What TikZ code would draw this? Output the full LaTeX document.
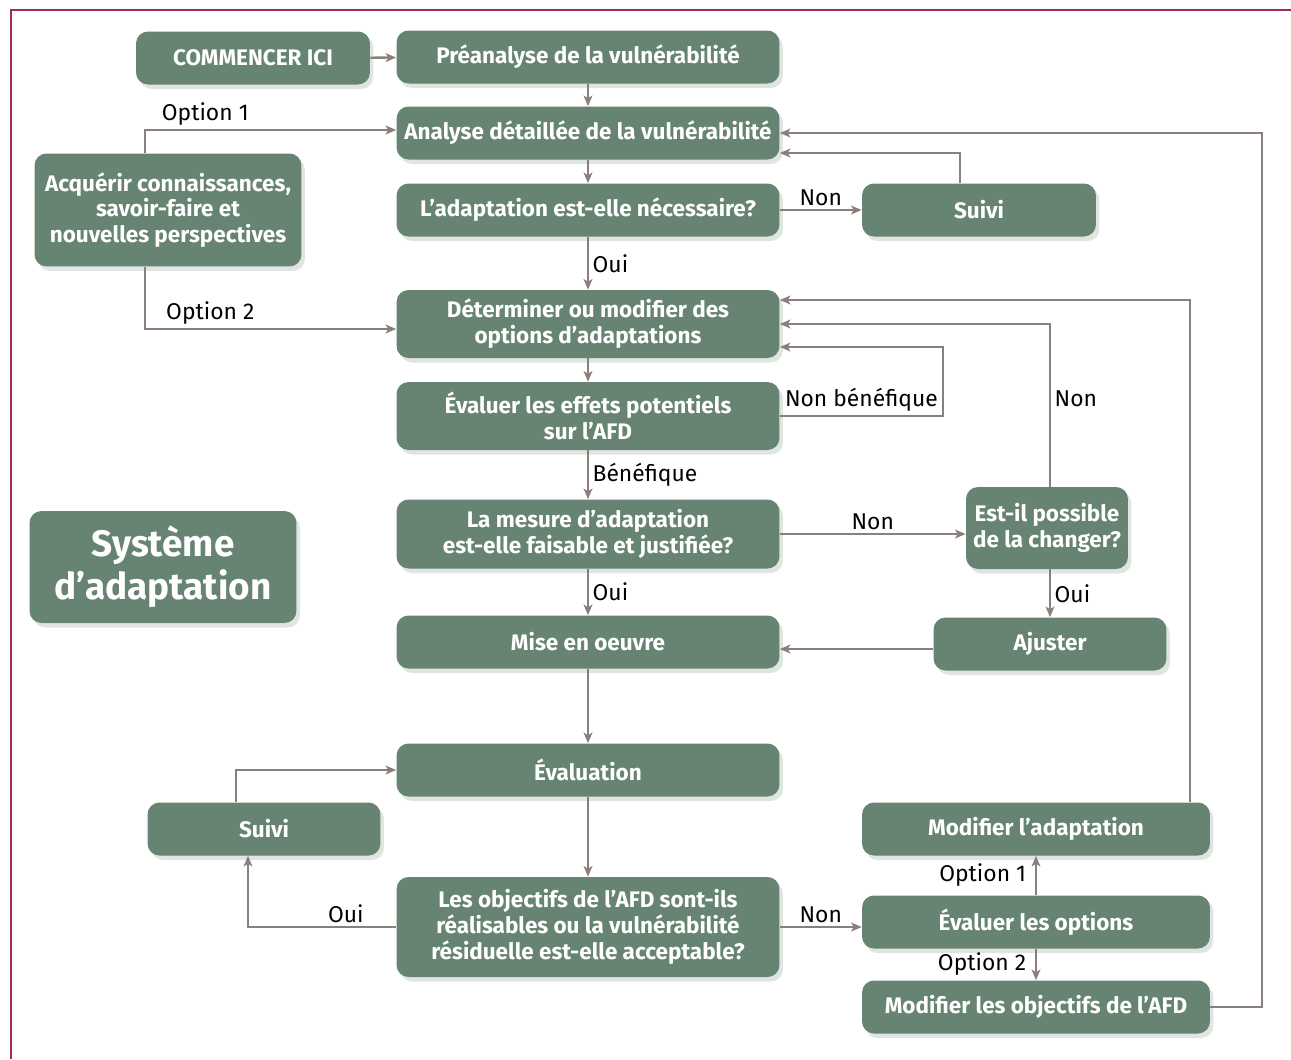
\documentclass[tikz,border=0pt]{standalone}
\usepackage{fontspec}
\setmainfont{Fira Sans}
\usetikzlibrary{arrows.meta,shadows}

\definecolor{boxgreen}{HTML}{668471}
\definecolor{linegray}{HTML}{8A7F7B}
\definecolor{framered}{HTML}{A3285E}

\tikzset{
  stepbox/.style={rectangle, rounded corners=0.24cm, fill=boxgreen, text=white,
    font=\bfseries\fontsize{12.8}{14.7}\selectfont, align=center, inner sep=0pt,
    minimum height=1.06cm,
    drop shadow={shadow xshift=0.07cm, shadow yshift=-0.09cm, opacity=0.3, fill=boxgreen!70}},
  widebox/.style={stepbox, minimum width=7.66cm},
  modbox/.style={stepbox, minimum width=6.96cm},
  flow/.style={draw=linegray, line width=1.3pt, -{Stealth[length=6pt,width=5pt,inset=1.5pt]}},
  lbl/.style={font=\fontsize{13}{15}\selectfont, text=black, inner sep=2pt}
}

\begin{document}
\begin{tikzpicture}[x=0.02cm, y=-0.02cm]
  \useasboundingbox (0,0) rectangle (1291,1059);
  \draw[framered, line width=1.2pt] (1291,10) -- (11,10) -- (11,1059);

  % boxes
  \node[stepbox, minimum width=4.68cm] (start) at (253,58) {COMMENCER ICI};
  \node[widebox] (prean) at (588,57) {Préanalyse de la vulnérabilité};
  \node[widebox] (analyse) at (588,133) {Analyse détaillée de la vulnérabilité};
  \node[widebox] (besoin) at (588,210) {L’adaptation est-elle nécessaire?};
  \node[stepbox, minimum width=4.68cm] (suivihaut) at (979,210) {Suivi};
  \node[stepbox, minimum width=5.34cm, minimum height=2.26cm] (savoir) at (168,210) {Acquérir connaissances,\\savoir-faire et\\nouvelles perspectives};
  \node[widebox, minimum height=1.36cm] (options) at (588,324) {Déterminer ou modifier des\\options d’adaptations};
  \node[widebox, minimum height=1.36cm] (effets) at (588,416) {Évaluer les effets potentiels\\sur l’AFD};
  \node[widebox, minimum height=1.38cm] (mesure) at (588,534) {La mesure d’adaptation\\est-elle faisable et justifiée?};
  \node[stepbox, minimum width=3.24cm, minimum height=1.64cm] (changer) at (1047,528) {Est-il possible\\de la changer?};
  \node[stepbox, minimum width=5.34cm, minimum height=2.24cm, font=\bfseries\fontsize{21}{24.4}\selectfont] (titre) at (163,567) {Système\\d’adaptation};
  \node[widebox] (miseoeuvre) at (588,642) {Mise en oeuvre};
  \node[stepbox, minimum width=4.66cm] (ajuster) at (1050,644) {Ajuster};
  \node[widebox] (evaluation) at (588,770) {Évaluation};
  \node[stepbox, minimum width=4.66cm] (suivibas) at (264,829) {Suivi};
  \node[widebox, minimum height=2cm] (objectifs) at (588,927) {Les objectifs de l’AFD sont-ils\\réalisables ou la vulnérabilité\\résiduelle est-elle acceptable?};
  \node[modbox] (modadapt) at (1036,829) {Modifier l’adaptation};
  \node[modbox] (evaloptions) at (1036,922) {Évaluer les options};
  \node[modbox] (modobj) at (1036,1007) {Modifier les objectifs de l’AFD};

  \coordinate (boucleNB) at (943,0);
  \coordinate (boucleM) at (1190,0);
  \coordinate (boucleR) at (1262,0);

  % connectors
  \draw[flow] (start) -- (prean);
  \draw[flow] (prean) -- (analyse);
  \draw[flow] (analyse) -- (besoin);
  \draw[flow] (besoin) -- node[lbl, above]{Non} (suivihaut);
  \draw[flow] ([xshift=-0.38cm]suivihaut.north) |- ([yshift=-0.4cm]analyse.east);
  \draw[flow] ([xshift=-0.46cm]savoir.north) |- node[lbl, above, pos=0.62]{Option 1} ([yshift=0.06cm]analyse.west);
  \draw[flow] ([xshift=-0.46cm]savoir.south) |- node[lbl, above, pos=0.63]{Option 2} ([yshift=-0.1cm]options.west);
  \draw[flow] (besoin) -- node[lbl, right]{Oui} (options);
  \draw[flow] (options) -- (effets);
  \draw[flow] (effets.east) -- node[lbl, above]{Non bénéfique} (effets.east -| boucleNB) |- ([yshift=-0.46cm]options.east);
  \draw[flow] (effets) -- node[lbl, right]{Bénéfique} (mesure);
  \draw[flow] (mesure.east) -- node[lbl, above]{Non} (mesure.east -| changer.west);
  \draw[flow] ([xshift=0.06cm]changer.north) |- node[lbl, right, pos=0.27]{Non} (options.east);
  \draw[flow] (changer.south -| ajuster.north) -- node[lbl, right]{Oui} (ajuster.north);
  \draw[flow] (mesure) -- node[lbl, right]{Oui} (miseoeuvre);
  \draw[flow] ([yshift=-0.1cm]ajuster.west) -- ([yshift=-0.1cm]ajuster.west -| miseoeuvre.east);
  \draw[flow] (modadapt.north -| boucleM) |- ([yshift=0.48cm]options.east);
  \draw[flow] (modobj.east) -- (modobj.east -| boucleR) -- (analyse.east -| boucleR) -- (analyse.east);
  \draw[flow] (miseoeuvre) -- (evaluation);
  \draw[flow] (evaluation) -- (objectifs);
  \draw[flow] ([xshift=-0.56cm]suivibas.north) |- (evaluation.west);
  \draw[flow] (objectifs.west) -| node[lbl, above, pos=0.17]{Oui} ([xshift=-0.32cm]suivibas.south);
  \draw[flow] (objectifs.east) -- node[lbl, above]{Non} (objectifs.east -| evaloptions.west);
  \draw[flow] (evaloptions) -- node[lbl, left, xshift=-3pt]{Option 1} (modadapt);
  \draw[flow] (evaloptions) -- node[lbl, left, xshift=-3pt]{Option 2} (modobj);
\end{tikzpicture}
\end{document}
